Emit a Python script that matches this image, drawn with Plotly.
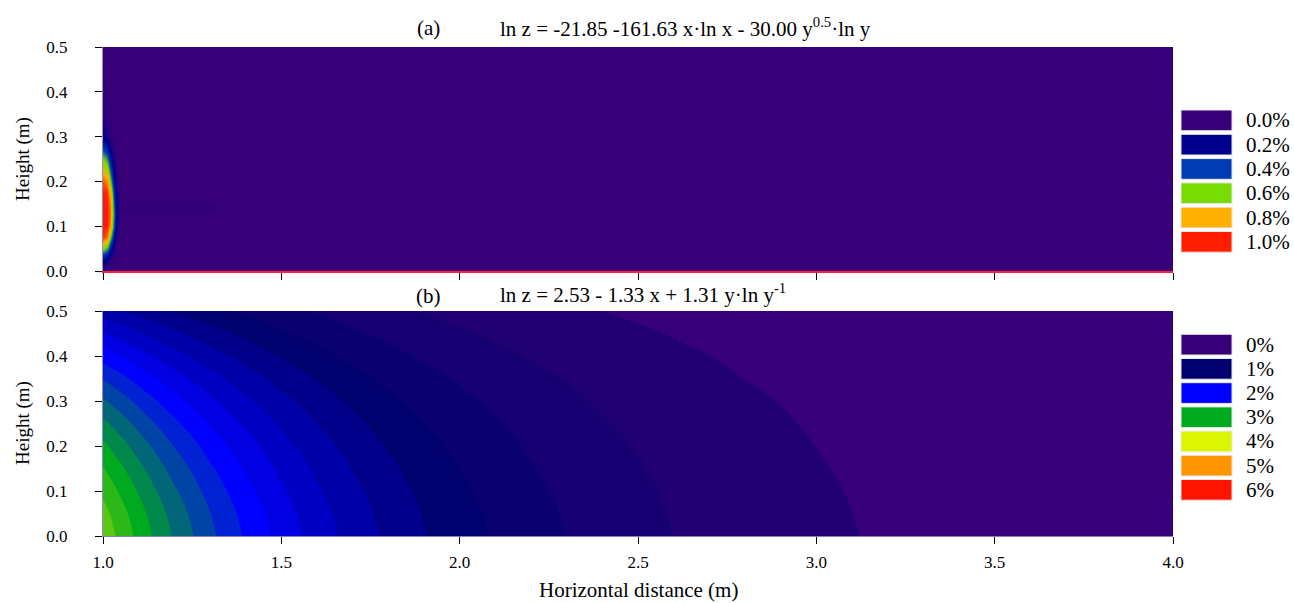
import plotly.graph_objects as go
from plotly.colors import sample_colorscale

# ---------------- Panel (a) data (values in %) ----------------
xa = [1.0, 1.01, 1.02, 1.03, 1.04, 1.05, 4.0]
ya = [0, 0.025, 0.05, 0.075, 0.1, 0.125, 0.15, 0.175, 0.2, 0.225, 0.25, 0.275, 0.3, 0.35, 0.5]
za = [
    [0.00, 0.00, 0.00, 0.00, 0.00, 0.00, 0.0],
    [0.20, 0.15, 0.05, 0.00, 0.00, 0.00, 0.0],
    [0.60, 0.50, 0.30, 0.08, 0.00, 0.00, 0.0],
    [0.97, 0.90, 0.60, 0.25, 0.05, 0.00, 0.0],
    [1.00, 1.00, 0.85, 0.40, 0.10, 0.00, 0.0],
    [1.00, 1.00, 0.90, 0.45, 0.12, 0.01, 0.0],
    [1.00, 1.00, 0.88, 0.42, 0.10, 0.01, 0.0],
    [1.00, 0.98, 0.80, 0.35, 0.08, 0.00, 0.0],
    [0.92, 0.85, 0.60, 0.25, 0.05, 0.00, 0.0],
    [0.75, 0.68, 0.45, 0.15, 0.02, 0.00, 0.0],
    [0.60, 0.50, 0.30, 0.08, 0.00, 0.00, 0.0],
    [0.38, 0.30, 0.15, 0.03, 0.00, 0.00, 0.0],
    [0.18, 0.12, 0.05, 0.00, 0.00, 0.00, 0.0],
    [0.03, 0.02, 0.00, 0.00, 0.00, 0.00, 0.0],
    [0.00, 0.00, 0.00, 0.00, 0.00, 0.00, 0.0],
]
legend_a_values = [0.0, 0.2, 0.4, 0.6, 0.8, 1.0]
legend_a_labels = ["0.0%", "0.2%", "0.4%", "0.6%", "0.8%", "1.0%"]
legend_a_colors = ["#370078", "#00008c", "#003cb4", "#78dc00", "#ffaf00", "#ff1e00"]

# ---------------- Panel (b) data (values in %) ----------------
xb = [1.0, 1.05, 1.1, 1.15, 1.2, 1.3, 1.4, 1.5, 1.6, 1.7, 1.8, 1.9, 2.0, 2.2, 2.4, 2.6, 2.8, 3.0, 3.2, 3.5, 4.0]
yb = [0, 0.05, 0.1, 0.15, 0.2, 0.25, 0.3, 0.35, 0.4, 0.45, 0.5]
zb = [
    [3.340, 3.140, 2.940, 2.750, 2.570, 2.250, 1.970, 1.725, 1.508, 1.320, 1.155, 1.010, 0.885, 0.677, 0.518, 0.397, 0.304, 0.233, 0.178, 0.119, 0.061],
    [3.273, 3.077, 2.881, 2.695, 2.519, 2.205, 1.931, 1.691, 1.478, 1.294, 1.132, 0.990, 0.867, 0.663, 0.508, 0.389, 0.298, 0.228, 0.174, 0.117, 0.060],
    [3.156, 2.967, 2.778, 2.599, 2.429, 2.126, 1.862, 1.630, 1.425, 1.247, 1.091, 0.954, 0.836, 0.640, 0.490, 0.375, 0.287, 0.220, 0.168, 0.112, 0.058],
    [3.016, 2.835, 2.655, 2.483, 2.321, 2.032, 1.779, 1.558, 1.362, 1.192, 1.043, 0.912, 0.799, 0.611, 0.468, 0.358, 0.275, 0.210, 0.161, 0.107, 0.055],
    [2.849, 2.678, 2.508, 2.346, 2.192, 1.919, 1.680, 1.471, 1.286, 1.126, 0.985, 0.862, 0.755, 0.577, 0.442, 0.339, 0.259, 0.199, 0.152, 0.102, 0.052],
    [2.655, 2.496, 2.337, 2.186, 2.043, 1.789, 1.566, 1.371, 1.199, 1.049, 0.918, 0.803, 0.704, 0.538, 0.412, 0.316, 0.242, 0.185, 0.142, 0.095, 0.048],
    [2.435, 2.289, 2.143, 2.005, 1.874, 1.640, 1.436, 1.258, 1.099, 0.962, 0.842, 0.736, 0.645, 0.494, 0.378, 0.289, 0.222, 0.170, 0.130, 0.087, 0.044],
    [2.188, 2.057, 1.926, 1.801, 1.683, 1.474, 1.290, 1.130, 0.988, 0.865, 0.757, 0.662, 0.580, 0.443, 0.339, 0.260, 0.199, 0.153, 0.117, 0.078, 0.040],
    [1.914, 1.799, 1.685, 1.576, 1.473, 1.289, 1.129, 0.988, 0.864, 0.756, 0.662, 0.579, 0.507, 0.388, 0.297, 0.227, 0.174, 0.134, 0.102, 0.068, 0.035],
    [1.613, 1.517, 1.420, 1.328, 1.241, 1.087, 0.952, 0.833, 0.728, 0.638, 0.558, 0.488, 0.427, 0.327, 0.250, 0.192, 0.147, 0.113, 0.086, 0.057, 0.029],
    [1.286, 1.209, 1.132, 1.059, 0.989, 0.866, 0.758, 0.664, 0.581, 0.508, 0.445, 0.389, 0.341, 0.261, 0.199, 0.153, 0.117, 0.090, 0.069, 0.046, 0.023],
]
legend_b_values = [0, 1, 2, 3, 4, 5, 6]
legend_b_labels = ["0%", "1%", "2%", "3%", "4%", "5%", "6%"]
legend_b_colors = ["#370078", "#00006e", "#0000ff", "#00aa1e", "#dcf500", "#ff9600", "#ff1400"]
level_start, level_end, level_step = 0.2, 3.2, 0.2

x_ticks = [1.0, 1.5, 2.0, 2.5, 3.0, 3.5, 4.0]
y_ticks = [0.0, 0.1, 0.2, 0.3, 0.4, 0.5]

title_a = "ln z = -21.85 -161.63 x·ln x - 30.00 y<sup>0.5</sup>·ln y"
title_b = "ln z = 2.53 - 1.33 x + 1.31 y·ln y<sup>-1</sup>"

# ---------------- colour scales ----------------
def scale_from(values, colors):
    lo, hi = values[0], values[-1]
    return [[(v - lo) / (hi - lo), c] for v, c in zip(values, colors)]

scale_a = scale_from(legend_a_values, legend_a_colors)
scale_b_legend = scale_from(legend_b_values, legend_b_colors)
n_levels = int(round((level_end - level_start) / level_step)) + 1
band_values = [0.0] + [level_start + level_step * k for k in range(1, n_levels + 1)]
band_colors = sample_colorscale(scale_b_legend, [v / legend_b_values[-1] for v in band_values])
scale_b = [[k / n_levels, c] for k, c in enumerate(band_colors)]

FONT = "Liberation Serif"

fig = go.Figure()
fig.add_trace(go.Heatmap(
    x=xa, y=ya, z=za, zmin=0, zmax=1, zsmooth="best",
    colorscale=scale_a, showscale=False, xaxis="x", yaxis="y", hoverinfo="skip"))
fig.add_trace(go.Contour(
    x=xb, y=yb, z=zb, colorscale=scale_b, showscale=False,
    autocontour=False,
    contours=dict(start=level_start, end=level_end, size=level_step, coloring="fill", showlines=False),
    line=dict(width=0, smoothing=1.3), xaxis="x2", yaxis="y2", hoverinfo="skip"))

# ---------------- layout geometry (pixels) ----------------
W, H = 1294, 603
L, R = 103, 1173
TOP_A, BOT_A = 47, 271
TOP_B, BOT_B = 311, 536
ph = BOT_B - TOP_A

def py(p):
    return (BOT_B - p) / ph

def px(p):
    return (p - L) / (R - L)

axis_common = dict(ticks="outside", ticklen=7, tickwidth=1, tickcolor="black",
                   tickfont=dict(family=FONT, size=17, color="black"),
                   showgrid=False, zeroline=False)

fig.update_layout(
    width=W, height=H,
    margin=dict(l=L, r=W - R, t=TOP_A, b=H - BOT_B),
    paper_bgcolor="white", plot_bgcolor="white",
    showlegend=False,
    xaxis=dict(domain=[0, 1], anchor="y", range=[1, 4], tickvals=x_ticks, showticklabels=False,
               showline=True, linecolor="#ff1e3c", linewidth=2, **axis_common),
    yaxis=dict(domain=[py(BOT_A), 1], anchor="x", range=[0, 0.5], tickvals=y_ticks,
               tickformat=".1f", ticklabelstandoff=24,
               showline=True, linecolor="#9a8cc8", linewidth=1, **axis_common),
    xaxis2=dict(domain=[0, 1], anchor="y2", range=[1, 4], tickvals=x_ticks, tickformat=".1f",
                ticklabelstandoff=4, showline=True, linecolor="#8a7cc0", linewidth=1, **axis_common),
    yaxis2=dict(domain=[0, py(TOP_B)], anchor="x2", range=[0, 0.5], tickvals=y_ticks,
                tickformat=".1f", ticklabelstandoff=24,
                showline=True, linecolor="#9a8cc8", linewidth=1, **axis_common),
)

shapes = []
annotations = []
BOX_X0, BOX_X1, TXT_X = 1181, 1232, 1244
BOX_H, PITCH = 20.7, 24.3
lfont = dict(family=FONT, size=21, color="black")

for i, (lab, col) in enumerate(zip(legend_a_labels, legend_a_colors)):
    top = 110 + i * PITCH
    shapes.append(dict(type="rect", xref="paper", yref="paper", x0=px(BOX_X0), x1=px(BOX_X1),
                       y0=py(top + BOX_H), y1=py(top), fillcolor=col,
                       line=dict(color="#e8e8e8", width=1)))
    annotations.append(dict(text=lab, xref="paper", yref="paper", x=px(TXT_X), y=py(top + BOX_H / 2),
                            xanchor="left", yanchor="middle", showarrow=False, font=lfont))

for i, (lab, col) in enumerate(zip(legend_b_labels, legend_b_colors)):
    top = 334.3 + i * 24.2
    shapes.append(dict(type="rect", xref="paper", yref="paper", x0=px(BOX_X0), x1=px(BOX_X1),
                       y0=py(top + BOX_H), y1=py(top), fillcolor=col,
                       line=dict(color="#e8e8e8", width=1)))
    annotations.append(dict(text=lab, xref="paper", yref="paper", x=px(TXT_X), y=py(top + BOX_H / 2),
                            xanchor="left", yanchor="middle", showarrow=False, font=lfont))

tfont = dict(family=FONT, size=21, color="black")
annotations += [
    dict(text="(a)", xref="paper", yref="paper", x=px(428), y=py(28), xanchor="center", yanchor="middle",
         showarrow=False, font=tfont),
    dict(text=title_a, xref="paper", yref="paper", x=px(498), y=py(28), xanchor="left", yanchor="middle",
         showarrow=False, font=tfont),
    dict(text="(b)", xref="paper", yref="paper", x=px(428), y=py(296), xanchor="center", yanchor="middle",
         showarrow=False, font=tfont),
    dict(text=title_b, xref="paper", yref="paper", x=px(498), y=py(293), xanchor="left", yanchor="middle",
         showarrow=False, font=tfont),
    dict(text="Height (m)", xref="paper", yref="paper", x=px(23), y=py(159), textangle=-90,
         xanchor="center", yanchor="middle", showarrow=False, font=dict(family=FONT, size=19, color="black")),
    dict(text="Height (m)", xref="paper", yref="paper", x=px(23), y=py(423), textangle=-90,
         xanchor="center", yanchor="middle", showarrow=False, font=dict(family=FONT, size=19, color="black")),
    dict(text="Horizontal distance (m)", xref="paper", yref="paper", x=px(638), y=py(590),
         xanchor="center", yanchor="middle", showarrow=False, font=dict(family=FONT, size=21, color="black")),
]
fig.update_layout(shapes=shapes, annotations=annotations)

fig.write_html("out.html", config={"displayModeBar": False},
               post_script="document.body.style.margin='0';")
